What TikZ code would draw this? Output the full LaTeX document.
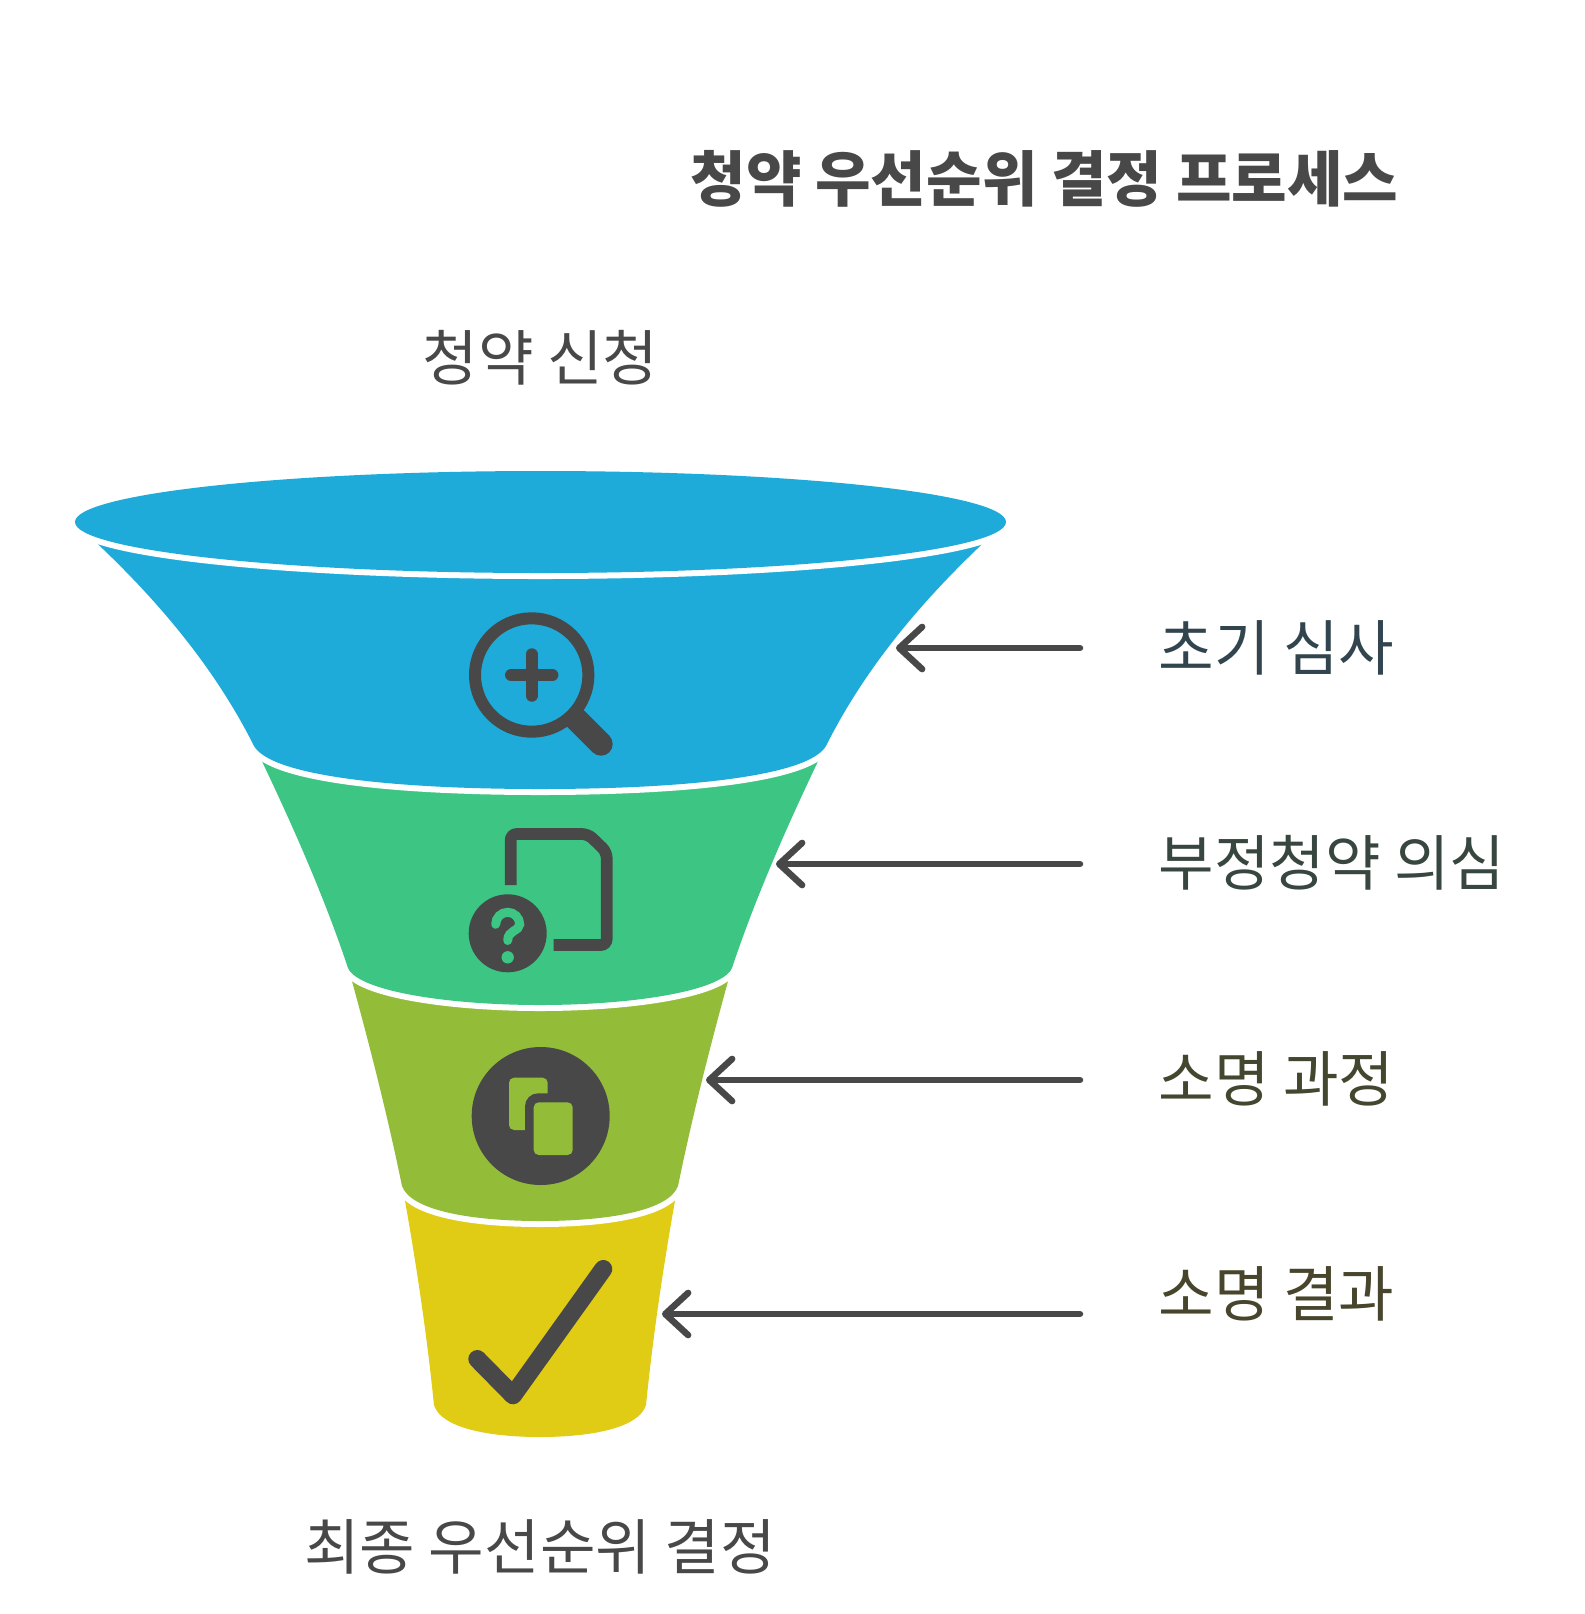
\documentclass[tikz,border=0pt]{standalone}
\usepackage{fontspec}
\setmainfont{Noto Sans CJK KR}
\usetikzlibrary{arrows.meta}
\definecolor{funnelblue}{HTML}{1EABDA}
\definecolor{funnelgreen}{HTML}{3CC583}
\definecolor{funnelolive}{HTML}{93BD39}
\definecolor{funnelyellow}{HTML}{E0CB15}
\definecolor{icondark}{HTML}{484848}
\definecolor{labelblue}{HTML}{32454E}
\definecolor{labelgreen}{HTML}{37473F}
\definecolor{labelolive}{HTML}{44472F}
\definecolor{labelyellow}{HTML}{47452B}
\tikzset{
    funnelpart/.style={fill=#1, preaction={draw=white, line width=0.12cm}},
    sidetext/.style={anchor=west, inner sep=0pt, text=#1, font=\fontsize{17.17pt}{20pt}\selectfont},
    maintext/.style={inner sep=0pt, text=icondark, font=\fontsize{17.17pt}{20pt}\selectfont},
    pointer/.style={draw=icondark, line width=0.065cm, line cap=round, -{Straight Barb[length=6.5pt,width=12pt,round]}}
}

\begin{document}
\begin{tikzpicture}[x=0.01cm, y=-0.01cm]
    \useasboundingbox (0, 0) rectangle (1585, 1614);

    % funnel, from the bottom up
    \path[funnelpart=funnelyellow](404, 1195) .. controls (417, 1268) and (427, 1336) .. (434, 1405)
        .. controls (441, 1428) and (489, 1437) .. (540, 1437)
        .. controls (591, 1437) and (639, 1428) .. (646, 1405)
        .. controls (653, 1336) and (663, 1268) .. (676, 1195) -- cycle;
    \path[funnelpart=funnelolive](350, 974) .. controls (371, 1050) and (388, 1118) .. (402, 1186)
        .. controls (411, 1211) and (473, 1221) .. (540, 1221)
        .. controls (607, 1221) and (669, 1211) .. (678, 1186)
        .. controls (692, 1118) and (709, 1050) .. (730, 974) -- cycle;
    \path[funnelpart=funnelgreen](258, 753) .. controls (294, 828) and (325, 899) .. (348, 968)
        .. controls (358, 991) and (447, 1005) .. (540, 1005)
        .. controls (633, 1005) and (722, 991) .. (732, 968)
        .. controls (755, 899) and (786, 828) .. (822, 753) -- cycle;
    \path[funnelpart=funnelblue](86, 533) .. controls (150, 592) and (212, 662) .. (254, 746)
        .. controls (272, 777) and (400, 789) .. (540, 789)
        .. controls (680, 789) and (808, 777) .. (826, 746)
        .. controls (868, 662) and (930, 592) .. (994, 533) -- cycle;
    \path[funnelpart=funnelblue](540.5, 522) ellipse [x radius=465.5, y radius=51];

    % magnifier
    \draw[icondark, line width=0.12cm](531.7, 675) circle [radius=56.7];
    \draw[icondark, line width=0.12cm, line cap=round](511, 675)--(552.4, 675);
    \draw[icondark, line width=0.12cm, line cap=round](531.7, 654.3)--(531.7, 695.7);
    \draw[icondark, line width=0.234cm](572, 715)--(601, 744);
    \fill[icondark](601, 744) circle [radius=11.7];

    % document with question mark
    \draw[icondark, line width=0.117cm, rounded corners=0.06cm](510.7, 885)--(510.7, 834)--(588, 834)--(606.7, 852)--(606.7, 945)--(553.5, 945);
    \fill[icondark](507.7, 933.3) circle [radius=39];
    \draw[funnelgreen, line width=0.09cm, line cap=round](495.7, 924.3) .. controls (495.7, 917.7) and (501, 912.3) .. (507.7, 912.3)
        .. controls (514.3, 912.3) and (519.7, 917.7) .. (519.7, 924.3)
        .. controls (519.7, 931) and (507.7, 930) .. (507.7, 940.5);
    \fill[funnelgreen](507.7, 957.3) circle [radius=6.2];

    % copies
    \fill[icondark](540.7, 1116) circle [radius=69];
    \fill[funnelolive, rounded corners=0.05cm](509, 1077.7) rectangle (547.7, 1130);
    \fill[icondark, rounded corners=0.13cm](525, 1093.3) rectangle (581, 1163);
    \fill[funnelolive, rounded corners=0.05cm](533.7, 1102.3) rectangle (572.7, 1155);

    % check mark
    \draw[icondark, line width=0.18cm, line cap=round, line join=round](477.3, 1359)--(513, 1395.3)--(603.3, 1269);

    % labels
    \node[inner sep=0pt, text=icondark, font=\fontsize{17.17pt}{20pt}\selectfont\bfseries] (title) at (1044.5, 179) {청약 우선순위 결정 프로세스};
    \node[maintext] (apply) at (540.5, 358) {청약 신청};
    \node[maintext] (final) at (540, 1547) {최종 우선순위 결정};
    \node[sidetext=labelblue] (first) at (1158, 648) {초기 심사};
    \node[sidetext=labelgreen] (fraud) at (1158, 863) {부정청약 의심};
    \node[sidetext=labelolive] (proof) at (1158, 1079) {소명 과정};
    \node[sidetext=labelyellow] (result) at (1158, 1294) {소명 결과};

    % arrows
    \coordinate (firststart) at (1080, 648);
    \coordinate (firsttip) at (896, 648);
    \coordinate (fraudstart) at (1080, 864);
    \coordinate (fraudtip) at (776, 864);
    \coordinate (proofstart) at (1080, 1080);
    \coordinate (prooftip) at (706, 1080);
    \coordinate (resultstart) at (1080, 1314);
    \coordinate (resulttip) at (662, 1314);
    \draw[pointer](firststart)--(firsttip);
    \draw[pointer](fraudstart)--(fraudtip);
    \draw[pointer](proofstart)--(prooftip);
    \draw[pointer](resultstart)--(resulttip);
\end{tikzpicture}
\end{document}
